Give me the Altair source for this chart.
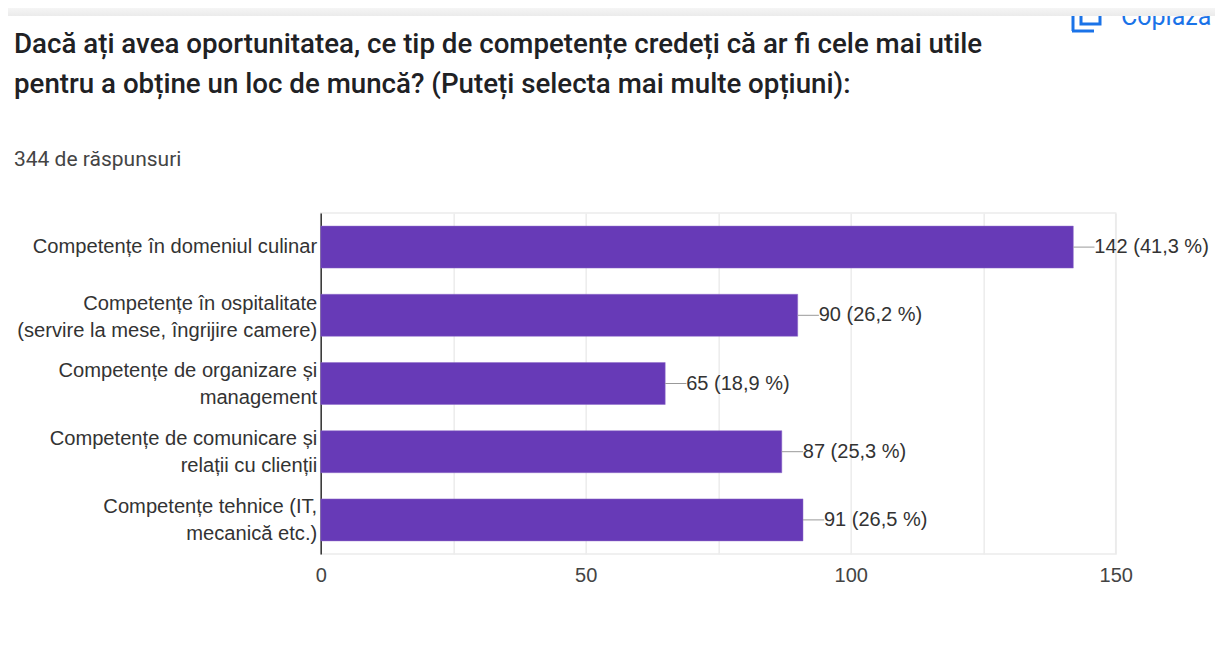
import altair as alt
import pandas as pd

categories = [
    "Competențe în domeniul culinar",
    "Competențe în ospitalitate|(servire la mese, îngrijire camere)",
    "Competențe de organizare și|management",
    "Competențe de comunicare și|relații cu clienții",
    "Competențe tehnice (IT,|mecanică etc.)",
]
values = [142, 90, 65, 87, 91]
value_labels = ["142 (41,3 %)", "90 (26,2 %)", "65 (18,9 %)", "87 (25,3 %)", "91 (26,5 %)"]
x_ticks = [0, 25, 50, 75, 100, 125, 150]
title_lines = [
    "Dacă ați avea oportunitatea, ce tip de competențe credeți că ar fi cele mai utile",
    "pentru a obține un loc de muncă? (Puteți selecta mai multe opțiuni):",
]
subtitle = "344 de răspunsuri"
leader_units = 4

df = pd.DataFrame({"cat": categories, "val": values, "lab": value_labels})
FONT = "Liberation Sans"
X0 = 320.7
Y0 = 213

y = alt.Y(
    "cat:N", sort=categories, title=None,
    scale=alt.Scale(paddingInner=0.384, paddingOuter=0.192),
    axis=alt.Axis(
        labelExpr="split(datum.label, '|')", labelFont=FONT, labelFontSize=20.15,
        labelColor="#333333", labelLimit=400, labelPadding=4,
        ticks=False, grid=False, domainColor="#333333", domainWidth=1.5,
        labelLineHeight=27, labelBaseline="middle",
        labelOffset=alt.ExprRef(
            "indexof(datum.label, 'ospitalitate') >= 0 ? -11 : (length(split(datum.label, '|')) > 1 ? -13 : 0)"
        ),
    ),
)
x = alt.X(
    "val:Q", title=None, scale=alt.Scale(domain=[0, 150], nice=False),
    axis=alt.Axis(
        values=x_ticks, labelExpr="datum.value % 50 == 0 ? datum.label : ''",
        labelFont=FONT, labelFontSize=20, labelColor="#444444", labelPadding=11,
        labelFlush=False, labelOverlap=False,
        ticks=False, domain=False, grid=True, gridColor="#ececec", gridWidth=1.5,
    ),
)

bars = alt.Chart(df).mark_bar(color="#673ab7", stroke="#8f6cc9", strokeWidth=0.5).encode(x=x, y=y)
leaders = (
    alt.Chart(df)
    .transform_calculate(x2=f"datum.val + {leader_units}")
    .mark_rule(color="#999999", strokeWidth=1)
    .encode(x=alt.X("val:Q"), x2="x2:Q", y=alt.Y("cat:N", sort=categories))
)
texts = (
    alt.Chart(df)
    .mark_text(align="left", baseline="middle", dx=21, font=FONT, fontSize=20, color="#333333")
    .encode(x=alt.X("val:Q"), y=alt.Y("cat:N", sort=categories), text="lab:N")
)


def page_text(txt, px, py, **kw):
    d = pd.DataFrame({"t": [txt]})
    return alt.Chart(d).mark_text(align="left", baseline="alphabetic", **kw).encode(
        x=alt.value(px - X0), y=alt.value(py - Y0), text="t:N")


title1 = page_text(title_lines[0], 14, 53, font="Roboto", fontSize=27.7, fontWeight=500, color="#202124")
title2 = page_text(title_lines[1], 14, 93, font="Roboto", fontSize=27.7, fontWeight=500, color="#202124")
sub = page_text(subtitle, 14, 166, font="Roboto", fontSize=21, color="#444444")

BLUE = "#1a73e8"
chrome_df = pd.DataFrame({"t": ["Copiază"]})
copy_text = page_text("Copiază", 1121, 25, font="Roboto", fontSize=25, color=BLUE)
icon_a = alt.Chart(chrome_df).mark_rect(fill=None, stroke=BLUE, strokeWidth=3).encode(
    x=alt.value(1081 - X0), x2=alt.value(1100 - X0), y=alt.value(5 - Y0), y2=alt.value(24 - Y0))
icon_b = alt.Chart(chrome_df).mark_rule(stroke=BLUE, strokeWidth=3).encode(
    x=alt.value(1073 - X0), y=alt.value(10 - Y0), y2=alt.value(31 - Y0))
icon_c = alt.Chart(chrome_df).mark_rule(stroke=BLUE, strokeWidth=3).encode(
    x=alt.value(1072 - X0), x2=alt.value(1094 - X0), y=alt.value(31 - Y0))
top_bar = alt.Chart(chrome_df).mark_rect(
    color=alt.LinearGradient(
        gradient="linear", x1=0, x2=0, y1=0, y2=1,
        stops=[alt.GradientStop(color="#f5f5f5", offset=0), alt.GradientStop(color="#ebebeb", offset=1)],
    )
).encode(x=alt.value(8 - X0), x2=alt.value(1215 - X0), y=alt.value(8 - Y0), y2=alt.value(16 - Y0))

chart = (
    alt.layer(bars, leaders, texts, title1, title2, sub, copy_text, icon_a, icon_b, icon_c, top_bar)
    .properties(
        width=795, height=341,
        padding={"left": X0 - 8, "top": Y0 - 8, "right": 1215 - X0 - 795, "bottom": 83},
        autosize=alt.AutoSizeParams(type="none"),
    )
    .configure_view(stroke="#ececec", strokeWidth=1.5)
)
chart.save("out.html", embed_options={"renderer": "svg", "actions": False})
